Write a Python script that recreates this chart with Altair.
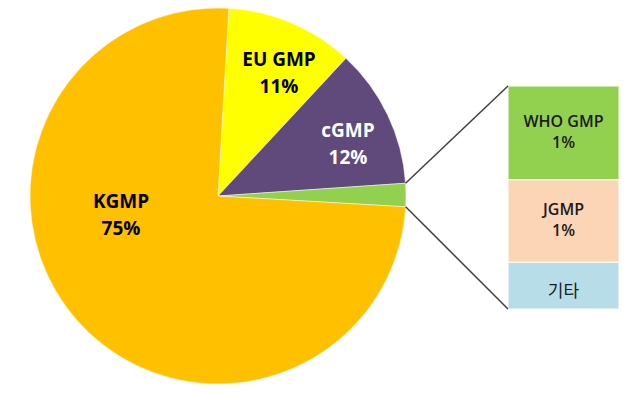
import math
import altair as alt
import pandas as pd

# ---- data ----
pie_names = ["EU GMP", "cGMP", "기타", "KGMP"]
pie_values = [11, 12, 2, 75]
pie_labels = ["EU GMP\n11%", "cGMP\n12%", "", "KGMP\n75%"]
pie_colors = ["#FFFF00", "#604A7B", "#92D050", "#FFC000"]

bar_names = ["기타", "JGMP", "WHO GMP"]          # bottom to top
bar_values = [0.42, 0.74, 0.84]
bar_labels = ["기타", "JGMP\n1%", "WHO GMP\n1%"]
bar_colors = ["#B7DEE8", "#FBD5B5", "#92D050"]

# ---- layout ----
W, H = 612, 377
CX, CY, R = 210, 188, 188
OFFSET = math.radians(3.3)
BAR_X0, BAR_X1, BAR_TOP, BAR_BOT = 500, 611, 78, 301
label_pos = {"EU GMP": (271, 52), "cGMP": (340, 123), "KGMP": (113, 194)}
label_color = {"EU GMP": "#000000", "cGMP": "#FFFFFF", "KGMP": "#000000"}
FONT = "Open Sans"

pie_df = pd.DataFrame({"pname": pie_names, "value": pie_values,
                       "ord": list(range(len(pie_names)))})

pie = alt.Chart(pie_df).mark_arc(outerRadius=R, stroke="#FFFFFF", strokeWidth=0.5).encode(
    theta=alt.Theta("value:Q", stack=True,
                    scale=alt.Scale(range=[OFFSET, OFFSET + 2 * math.pi])),
    color=alt.Color("pname:N", scale=alt.Scale(domain=pie_names, range=pie_colors), legend=None),
    order=alt.Order("ord:Q"),
    x=alt.value(CX), y=alt.value(CY),
)

layers = [pie]

for name, lab in zip(pie_names, pie_labels):
    if not lab:
        continue
    lx, ly = label_pos[name]
    t = alt.Chart(pd.DataFrame({"t": [lab]})).mark_text(
        lineBreak="\n", font=FONT, fontSize=19, fontWeight="bold",
        color=label_color[name], lineHeight=27, baseline="middle", align="center"
    ).encode(text="t:N", x=alt.value(lx), y=alt.value(ly))
    layers.append(t)

# bar of pie
starts, ends, mids = [], [], []
acc = 0.0
for v in bar_values:
    starts.append(acc)
    acc += v
    ends.append(acc)
    mids.append(acc - v / 2)
bar_df = pd.DataFrame({"bname": bar_names, "y0": starts, "y1": ends, "mid": mids,
                       "label": bar_labels})
yscale = alt.Scale(domain=[0, acc], range=[BAR_BOT, BAR_TOP])

bar = alt.Chart(bar_df).mark_rect(stroke="#FFFFFF", strokeWidth=1).encode(
    x=alt.value(BAR_X0), x2=alt.value(BAR_X1),
    y=alt.Y("y0:Q", scale=yscale, axis=None), y2="y1:Q",
    fill=alt.Fill("bname:N", scale=alt.Scale(domain=bar_names, range=bar_colors), legend=None),
)
bar_text = alt.Chart(bar_df[bar_df["bname"] != "기타"]).mark_text(
    lineBreak="\n", font=FONT, fontSize=16, fontWeight=600, color="#1A1A1A",
    lineHeight=21, baseline="middle", align="center", dy=-11
).encode(text="label:N", x=alt.value((BAR_X0 + BAR_X1) / 2),
         y=alt.Y("mid:Q", scale=yscale, axis=None))
bar_text2 = alt.Chart(bar_df[bar_df["bname"] == "기타"]).mark_text(
    font="Noto Sans CJK KR", fontSize=17, color="#1A1A1A",
    baseline="middle", align="center", dy=6
).encode(text="label:N", x=alt.value((BAR_X0 + BAR_X1) / 2),
         y=alt.Y("mid:Q", scale=yscale, axis=None))
layers += [bar, bar_text, bar_text2]

# connector lines from the 기타 slice edge to the bar corners
total = sum(pie_values)
a0 = OFFSET + sum(pie_values[:2]) / total * 2 * math.pi
a1 = a0 + pie_values[2] / total * 2 * math.pi
for a, by in [(a0, BAR_TOP), (a1, BAR_BOT)]:
    px = CX + R * math.sin(a)
    py = CY - R * math.cos(a)
    rule = alt.Chart(pd.DataFrame({"d": [0]})).mark_rule(color="#404040", strokeWidth=1.5).encode(
        x=alt.value(px), y=alt.value(py), x2=alt.value(BAR_X0), y2=alt.value(by))
    layers.append(rule)

chart = alt.layer(*layers).resolve_scale(color="independent", fill="independent").properties(
    width=W, height=H, padding=0, autosize=alt.AutoSizeParams(type="none")
).configure_view(stroke=None)

chart.save("out.html", embed_options={"renderer": "svg", "actions": False})
